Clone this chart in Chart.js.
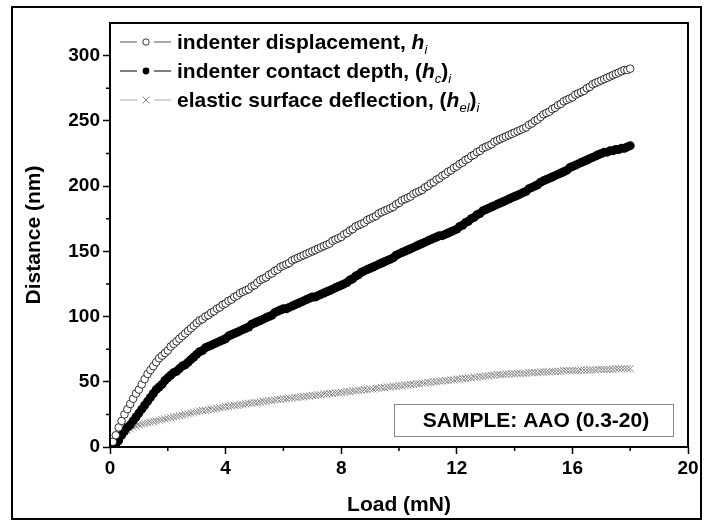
<!DOCTYPE html>
<html>
<head>
<meta charset="utf-8">
<script src="https://cdn.jsdelivr.net/npm/chart.js@4.4.1/dist/chart.umd.min.js"></script>
<style>
  html, body { margin: 0; padding: 0; background: #fff; }
</style>
</head>
<body>
<canvas id="loadChart" width="704" height="522"></canvas>
<script>
// Load (mN)
const loads = [
  0.1, 0.2, 0.3, 0.4, 0.5, 0.6, 0.7, 0.8, 0.9, 1.0,
  1.1, 1.2, 1.3, 1.4, 1.5, 1.6, 1.7, 1.8, 1.9, 2.0,
  2.1, 2.2, 2.3, 2.4, 2.5, 2.6, 2.7, 2.8, 2.9, 3.0,
  3.1, 3.2, 3.3, 3.4, 3.5, 3.6, 3.7, 3.8, 3.9, 4.0,
  4.1, 4.2, 4.3, 4.4, 4.5, 4.6, 4.7, 4.8, 4.9, 5.0,
  5.1, 5.2, 5.3, 5.4, 5.5, 5.6, 5.7, 5.8, 5.9, 6.0,
  6.1, 6.2, 6.3, 6.4, 6.5, 6.6, 6.7, 6.8, 6.9, 7.0,
  7.1, 7.2, 7.3, 7.4, 7.5, 7.6, 7.7, 7.8, 7.9, 8.0,
  8.1, 8.2, 8.3, 8.4, 8.5, 8.6, 8.7, 8.8, 8.9, 9.0,
  9.1, 9.2, 9.3, 9.4, 9.5, 9.6, 9.7, 9.8, 9.9, 10.0,
  10.1, 10.2, 10.3, 10.4, 10.5, 10.6, 10.7, 10.8, 10.9, 11.0,
  11.1, 11.2, 11.3, 11.4, 11.5, 11.6, 11.7, 11.8, 11.9, 12.0,
  12.1, 12.2, 12.3, 12.4, 12.5, 12.6, 12.7, 12.8, 12.9, 13.0,
  13.1, 13.2, 13.3, 13.4, 13.5, 13.6, 13.7, 13.8, 13.9, 14.0,
  14.1, 14.2, 14.3, 14.4, 14.5, 14.6, 14.7, 14.8, 14.9, 15.0,
  15.1, 15.2, 15.3, 15.4, 15.5, 15.6, 15.7, 15.8, 15.9, 16.0,
  16.1, 16.2, 16.3, 16.4, 16.5, 16.6, 16.7, 16.8, 16.9, 17.0,
  17.1, 17.2, 17.3, 17.4, 17.5, 17.6, 17.7, 17.8, 17.9, 18.0
];
// indenter displacement h_i (nm)
const displacement = [
  4, 9, 15, 20, 25, 29, 33, 37, 41, 44,
  48, 52, 56, 59, 62, 65, 68, 70, 72, 74,
  77, 79, 81, 83, 85, 87, 89, 91, 93, 95,
  97, 98, 100, 101, 103, 104, 106, 107, 109, 110,
  112, 113, 115, 116, 118, 119, 120, 121, 123, 124,
  126, 128, 129, 130, 132, 133, 135, 136, 138, 139,
  140, 141, 143, 144, 145, 146, 147, 148, 149, 150,
  151, 152, 153, 154, 155, 156, 158, 159, 160, 161,
  163, 164, 166, 167, 169, 170, 171, 172, 174, 175,
  176, 177, 179, 180, 181, 182, 183, 184, 186, 187,
  189, 190, 191, 192, 194, 195, 196, 197, 199, 200,
  202, 203, 205, 206, 208, 209, 211, 212, 214, 215,
  217, 218, 220, 221, 223, 224, 226, 227, 229, 230,
  231, 232, 234, 235, 236, 237, 238, 239, 240, 241,
  242, 243, 244, 245, 247, 248, 250, 251, 253, 255,
  256, 257, 259, 260, 262, 263, 265, 266, 267, 268,
  270, 271, 272, 273, 275, 276, 278, 279, 280, 281,
  282, 283, 284, 285, 286, 287, 288, 289, 289, 290
];
// indenter contact depth (h_c)_i (nm)
const contactDepth = [
  0, 2, 5, 9, 12, 15, 17, 20, 23, 26,
  29, 32, 35, 38, 41, 44, 46, 48, 51, 53,
  55, 57, 58, 60, 62, 63, 65, 67, 69, 71,
  73, 74, 76, 77, 78, 79, 80, 81, 82, 83,
  85, 86, 87, 88, 89, 90, 91, 92, 94, 95,
  96, 97, 98, 99, 100, 101, 103, 104, 105, 106,
  106, 107, 108, 109, 110, 111, 112, 113, 114, 115,
  115, 116, 117, 118, 119, 120, 121, 122, 123, 124,
  125, 126, 128, 129, 131, 132, 134, 135, 136, 137,
  138, 139, 140, 141, 142, 143, 144, 145, 147, 148,
  149, 150, 151, 152, 153, 154, 155, 156, 157, 158,
  159, 160, 161, 162, 162, 163, 164, 165, 166, 167,
  169, 170, 172, 173, 175, 176, 178, 179, 181, 182,
  183, 184, 185, 186, 187, 188, 189, 190, 191, 192,
  193, 194, 195, 196, 198, 199, 200, 201, 203, 204,
  205, 206, 207, 208, 209, 210, 211, 212, 214, 215,
  216, 217, 218, 219, 220, 221, 222, 223, 224, 225,
  226, 226, 227, 227, 228, 228, 229, 229, 230, 231
];
// elastic surface deflection (h_el)_i (nm)
const elasticDeflection = [
  3, 6, 8, 10, 12, 13, 14, 15, 16, 17,
  17.5, 18, 18.5, 19, 19.5, 20, 20.5, 21, 21.5, 22,
  22.5, 23, 23.5, 24, 24.5, 25, 25.5, 26, 26.5, 27,
  27.5, 28, 28, 28.5, 29, 29, 29.5, 30, 30.5, 31,
  31, 31.5, 32, 32, 32.5, 32.5, 33, 33.5, 33.5, 34,
  34, 34.5, 35, 35, 35.5, 35.5, 36, 36.5, 36.5, 37,
  37, 37.5, 37.5, 38, 38, 38.5, 38.5, 39, 39, 39.5,
  39.5, 40, 40, 40.5, 40.5, 41, 41, 41.5, 41.5, 42,
  42, 42.5, 42.5, 43, 43, 43.5, 43.5, 44, 44, 44.5,
  44.5, 45, 45, 45.5, 45.5, 46, 46, 46.5, 46.5, 47,
  47, 47.5, 47.5, 48, 48, 48.5, 48.5, 49, 49, 49.5,
  49.5, 50, 50, 50.5, 50.5, 51, 51, 51.5, 51.5, 52,
  52, 52.5, 52.5, 53, 53, 53.5, 53.5, 54, 54, 54.5,
  54.5, 55, 55, 55.5, 55.5, 55.5, 56, 56, 56, 56,
  56.5, 56.5, 56.5, 56.5, 57, 57, 57, 57, 57.5, 57.5,
  57.5, 57.5, 58, 58, 58, 58, 58.5, 58.5, 58.5, 58.5,
  58.5, 58.5, 59, 59, 59, 59, 59, 59, 59.5, 59.5,
  59.5, 59.5, 59.5, 59.5, 60, 60, 60, 60, 60, 60
];

const FONT = '"Liberation Sans", Arial, sans-serif';
const GRAY = '#8a8a8a';

function pts(values) {
  return loads.map((x, i) => ({ x: x, y: values[i] }));
}

// draws a line of text made of several font pieces (for italic h and subscripts)
function drawRich(ctx, x, y, parts) {
  parts.forEach(p => {
    ctx.font = p.font;
    ctx.fillText(p.text, x, y + (p.dy || 0));
    x += ctx.measureText(p.text).width;
  });
}

const legendRows = [
  { y: 42, line: '#555', marker: 'open', parts: [
    { text: 'indenter displacement, ', font: 'bold 21px ' + FONT },
    { text: 'h', font: 'italic bold 21px ' + FONT },
    { text: 'i', font: 'italic 13px ' + FONT, dy: 5 }
  ] },
  { y: 71, line: '#000', marker: 'filled', parts: [
    { text: 'indenter contact depth, (', font: 'bold 21px ' + FONT },
    { text: 'h', font: 'italic bold 21px ' + FONT },
    { text: 'c', font: 'italic 13px ' + FONT, dy: 5 },
    { text: ')', font: 'bold 21px ' + FONT },
    { text: 'i', font: 'italic 13px ' + FONT, dy: 5 }
  ] },
  { y: 100, line: '#aaa', marker: 'cross', parts: [
    { text: 'elastic surface deflection, (', font: 'bold 21px ' + FONT },
    { text: 'h', font: 'italic bold 21px ' + FONT },
    { text: 'el', font: 'italic 13px ' + FONT, dy: 5 },
    { text: ')', font: 'bold 21px ' + FONT },
    { text: 'i', font: 'italic 13px ' + FONT, dy: 5 }
  ] }
];

const decor = {
  id: 'decor',
  beforeDraw(chart) {
    const ctx = chart.ctx;
    ctx.save();
    ctx.fillStyle = '#fff';
    ctx.fillRect(0, 0, chart.width, chart.height);
    ctx.restore();
  },
  afterDraw(chart) {
    const { ctx, chartArea: a, scales: { x, y } } = chart;
    ctx.save();

    // outer frame
    ctx.strokeStyle = '#000';
    ctx.lineWidth = 2;
    ctx.strokeRect(12, 7, 689, 512);

    // plot box
    ctx.strokeRect(a.left, a.top, a.right - a.left, a.bottom - a.top);

    // minor ticks
    ctx.lineWidth = 1.5;
    ctx.beginPath();
    for (let v = 2; v < 20; v += 4) {
      const px = x.getPixelForValue(v);
      ctx.moveTo(px, a.bottom);
      ctx.lineTo(px, a.bottom + 4);
    }
    for (let v = 25; v < 325; v += 50) {
      const py = y.getPixelForValue(v);
      ctx.moveTo(a.left, py);
      ctx.lineTo(a.left - 4, py);
    }
    ctx.stroke();

    // legend
    ctx.textBaseline = 'alphabetic';
    legendRows.forEach(r => {
      ctx.strokeStyle = r.line;
      ctx.lineWidth = 1.2;
      ctx.beginPath();
      ctx.moveTo(120, r.y); ctx.lineTo(137, r.y);
      ctx.moveTo(154, r.y); ctx.lineTo(171, r.y);
      ctx.stroke();
      const mx = 146;
      if (r.marker === 'open') {
        ctx.strokeStyle = '#000'; ctx.lineWidth = 0.8; ctx.fillStyle = '#fff';
        ctx.beginPath(); ctx.arc(mx, r.y, 3.2, 0, Math.PI * 2); ctx.fill(); ctx.stroke();
      } else if (r.marker === 'filled') {
        ctx.fillStyle = '#000';
        ctx.beginPath(); ctx.arc(mx, r.y, 3.4, 0, Math.PI * 2); ctx.fill();
      } else {
        ctx.strokeStyle = GRAY; ctx.lineWidth = 1;
        ctx.beginPath();
        ctx.moveTo(mx - 3.5, r.y - 3.5); ctx.lineTo(mx + 3.5, r.y + 3.5);
        ctx.moveTo(mx + 3.5, r.y - 3.5); ctx.lineTo(mx - 3.5, r.y + 3.5);
        ctx.stroke();
      }
      ctx.fillStyle = '#000';
      drawRich(ctx, 177, r.y + 7, r.parts);
    });

    // sample box
    ctx.strokeStyle = '#888';
    ctx.lineWidth = 1;
    ctx.strokeRect(394.5, 404.5, 279, 32);
    ctx.fillStyle = '#000';
    ctx.font = 'bold 21px ' + FONT;
    ctx.textAlign = 'center';
    ctx.textBaseline = 'middle';
    ctx.fillText('SAMPLE: AAO (0.3-20)', 536, 421);

    ctx.restore();
  }
};

const tickFont = { family: FONT, size: 19, weight: 'bold' };
const titleFont = { family: FONT, size: 21, weight: 'bold' };

new Chart(document.getElementById('loadChart'), {
  type: 'scatter',
  data: {
    datasets: [
      {
        label: 'indenter displacement, h_i',
        data: pts(displacement),
        pointStyle: 'circle',
        pointRadius: 3.8,
        pointBorderWidth: 0.8,
        pointBorderColor: '#000',
        pointBackgroundColor: '#fff',
        showLine: false
      },
      {
        label: 'indenter contact depth, (h_c)_i',
        data: pts(contactDepth),
        pointStyle: 'circle',
        pointRadius: 4.5,
        pointBorderWidth: 0,
        pointBorderColor: '#000',
        pointBackgroundColor: '#000',
        showLine: false
      },
      {
        label: 'elastic surface deflection, (h_el)_i',
        data: pts(elasticDeflection),
        pointStyle: 'crossRot',
        pointRadius: 5,
        pointBorderWidth: 1,
        pointBorderColor: GRAY,
        showLine: false
      }
    ]
  },
  options: {
    responsive: false,
    animation: false,
    devicePixelRatio: 1,
    layout: { padding: { left: 0, right: 16, top: 23, bottom: 0 } },
    plugins: {
      legend: { display: false },
      tooltip: { enabled: false }
    },
    scales: {
      x: {
        type: 'linear',
        min: 0,
        max: 20,
        afterFit: s => { s.height = 75; },
        border: { display: false },
        grid: {
          drawOnChartArea: false,
          tickLength: 7,
          tickWidth: 1.5,
          tickColor: c => (c.tick && c.tick.value % 4 === 0) ? '#000' : 'rgba(0,0,0,0)'
        },
        ticks: {
          stepSize: 2,
          color: '#000',
          font: tickFont,
          padding: 3,
          maxRotation: 0,
          autoSkip: false,
          callback: v => (v % 4 === 0 ? v : '')
        },
        title: {
          display: true,
          text: 'Load (mN)',
          color: '#000',
          font: titleFont,
          padding: { top: 0, bottom: 4 }
        }
      },
      y: {
        type: 'linear',
        min: 0,
        max: 325,
        afterFit: s => { s.width = 110; },
        border: { display: false },
        grid: {
          drawOnChartArea: false,
          tickLength: 7,
          tickWidth: 1.5,
          tickColor: c => (c.tick && c.tick.value % 50 === 0) ? '#000' : 'rgba(0,0,0,0)'
        },
        ticks: {
          stepSize: 25,
          color: '#000',
          font: tickFont,
          padding: 3,
          autoSkip: false,
          callback: v => (v % 50 === 0 ? v : '')
        },
        title: {
          display: true,
          text: 'Distance (nm)',
          color: '#000',
          font: titleFont,
          padding: { top: 22, bottom: 0 }
        }
      }
    }
  },
  plugins: [decor]
});
</script>
</body>
</html>
